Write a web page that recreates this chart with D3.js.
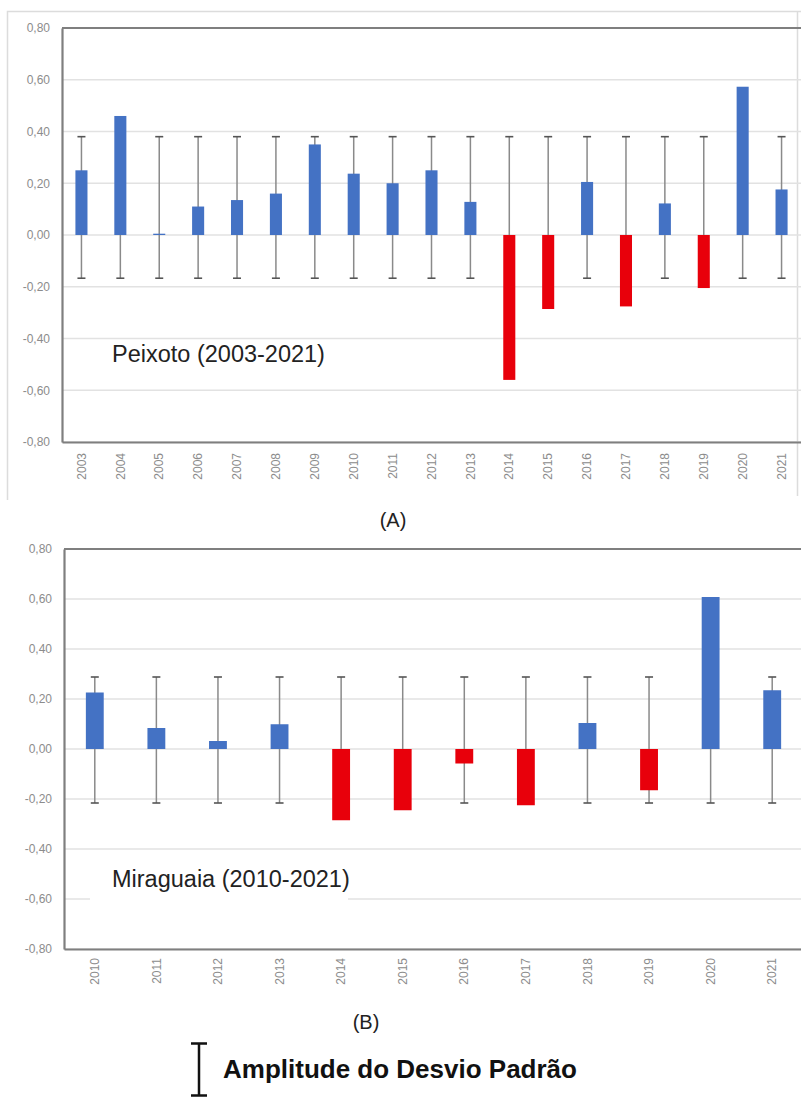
<!DOCTYPE html>
<html>
<head>
<meta charset="utf-8">
<script src="https://cdn.jsdelivr.net/npm/d3@7"></script>
<style>
  body { margin: 0; background: #fff; }
  svg { display: block; font-family: "Liberation Sans", Arial, sans-serif; }
</style>
</head>
<body>
<svg id="fig" width="801" height="1097"></svg>
<script>
'use strict'

// anomalies per year
const peixotoYears = ['2003', '2004', '2005', '2006', '2007', '2008', '2009', '2010', '2011', '2012',
  '2013', '2014', '2015', '2016', '2017', '2018', '2019', '2020', '2021']
const peixotoValues = [0.25, 0.46, 0.005, 0.11, 0.135, 0.16, 0.35, 0.237, 0.20, 0.25,
  0.128, -0.56, -0.286, 0.205, -0.276, 0.122, -0.205, 0.573, 0.176]
const peixotoSd = [-0.167, 0.38]

const miraguaiaYears = ['2010', '2011', '2012', '2013', '2014', '2015', '2016', '2017', '2018', '2019', '2020', '2021']
const miraguaiaValues = [0.226, 0.084, 0.032, 0.099, -0.285, -0.245, -0.058, -0.225, 0.104, -0.165, 0.608, 0.235]
const miraguaiaSd = [-0.216, 0.288]

const yTicks = [0.8, 0.6, 0.4, 0.2, 0, -0.2, -0.4, -0.6, -0.8]
const panelNames = ['Peixoto (2003-2021)', 'Miraguaia (2010-2021)']
const panelLetters = ['(A)', '(B)']
const legendText = 'Amplitude do Desvio Padrão'

const BLUE = '#4472c4'
const RED = '#e8000b'

const svg = d3.select('#fig')
const fmt = v => d3.format('.2f')(v).replace('.', ',').replace('−', '-')

// light frame around the first panel
svg.append('path')
  .attr('d', 'M7.5,500 V11.5 H801 M797.5,11.5 V496')
  .attr('fill', 'none')
  .attr('stroke', '#dcdcdc')
  .attr('stroke-width', 1.5)

drawPanel({
  years: peixotoYears, values: peixotoValues, sd: peixotoSd,
  left: 62, right: 801, top: 28, bottom: 442,
  barFrac: 0.31, labelOffset: 11,
  name: panelNames[0], nameX: 112, nameY: 362, nameBox: null,
  letter: panelLetters[0], letterX: 393, letterY: 527
})

drawPanel({
  years: miraguaiaYears, values: miraguaiaValues, sd: miraguaiaSd,
  left: 64, right: 803, top: 549, bottom: 949,
  barFrac: 0.29, labelOffset: 9,
  name: panelNames[1], nameX: 112, nameY: 887, nameBox: [90, 862, 258, 42],
  letter: panelLetters[1], letterX: 366, letterY: 1029
})

drawLegend()

function drawPanel (cfg) {
  const g = svg.append('g')

  const x = d3.scaleBand()
    .domain(cfg.years)
    .range([cfg.left, cfg.right])

  const y = d3.scaleLinear()
    .domain([-0.8, 0.8])
    .range([cfg.bottom, cfg.top])

  // horizontal gridlines
  g.append('g')
    .selectAll('line')
    .data(yTicks)
    .enter()
    .append('line')
      .attr('x1', cfg.left)
      .attr('x2', cfg.right)
      .attr('y1', d => y(d))
      .attr('y2', d => y(d))
      .attr('stroke', '#e2e2e2')
      .attr('stroke-width', 1.5)

  // top border of the plot
  g.append('line')
    .attr('x1', cfg.left)
    .attr('x2', 801)
    .attr('y1', y(0.8))
    .attr('y2', y(0.8))
    .attr('stroke', '#7f7f7f')
    .attr('stroke-width', 2.2)

  // white box behind the station name
  if (cfg.nameBox) {
    g.append('rect')
      .attr('x', cfg.nameBox[0])
      .attr('y', cfg.nameBox[1])
      .attr('width', cfg.nameBox[2])
      .attr('height', cfg.nameBox[3])
      .attr('fill', '#fff')
  }

  // y axis
  const yAxis = g.append('g')
    .attr('transform', 'translate(' + cfg.left + ',0)')
    .call(d3.axisLeft(y).tickValues(yTicks).tickSize(0).tickPadding(12).tickFormat(fmt))
  yAxis.select('.domain').attr('stroke', '#7f7f7f').attr('stroke-width', 2.2)
  yAxis.selectAll('text')
    .attr('fill', '#8c8c8c')
    .style('font-size', '12px')
    .style('font-family', '"Liberation Sans", Arial, sans-serif')

  // x axis with rotated year labels
  const xAxis = g.append('g')
    .attr('transform', 'translate(0,' + cfg.bottom + ')')
    .call(d3.axisBottom(x).tickSize(0).tickSizeOuter(0))
  xAxis.select('.domain').attr('stroke', '#7f7f7f').attr('stroke-width', 2.2)
  xAxis.selectAll('text')
    .attr('transform', 'rotate(-90)')
    .attr('x', -cfg.labelOffset)
    .attr('y', 0)
    .attr('dy', '0.35em')
    .attr('fill', '#8c8c8c')
    .style('text-anchor', 'end')
    .style('font-size', '12px')
    .style('font-family', '"Liberation Sans Narrow", "Liberation Sans", Arial, sans-serif')

  const cx = d => x(d) + x.bandwidth() / 2
  const capW = 4

  // standard deviation whiskers (behind the bars)
  const err = g.append('g')
  err.selectAll('line.whisker')
    .data(cfg.years)
    .enter()
    .append('line')
      .attr('class', 'whisker')
      .attr('x1', cx)
      .attr('x2', cx)
      .attr('y1', y(cfg.sd[0]))
      .attr('y2', y(cfg.sd[1]))
      .attr('stroke', '#8a8a8a')
      .attr('stroke-width', 1.5)
  cfg.sd.forEach(v => {
    err.selectAll(null)
      .data(cfg.years)
      .enter()
      .append('line')
        .attr('x1', d => cx(d) - capW)
        .attr('x2', d => cx(d) + capW)
        .attr('y1', y(v))
        .attr('y2', y(v))
        .attr('stroke', '#555')
        .attr('stroke-width', 1.6)
  })

  // bars
  const bw = x.bandwidth() * cfg.barFrac
  g.append('g')
    .selectAll('rect')
    .data(cfg.years.map((yr, i) => ({ year: yr, value: cfg.values[i] })))
    .enter()
    .append('rect')
      .attr('x', d => cx(d.year) - bw / 2)
      .attr('y', d => y(Math.max(0, d.value)))
      .attr('width', bw)
      .attr('height', d => Math.abs(y(d.value) - y(0)))
      .attr('fill', d => d.value < 0 ? RED : BLUE)

  // station name inside the plot
  g.append('text')
    .attr('x', cfg.nameX)
    .attr('y', cfg.nameY)
    .attr('fill', '#222')
    .style('font-size', '23.5px')
    .text(cfg.name)

  // panel letter
  g.append('text')
    .attr('x', cfg.letterX)
    .attr('y', cfg.letterY)
    .attr('text-anchor', 'middle')
    .attr('fill', '#222')
    .style('font-size', '20px')
    .text(cfg.letter)
}

function drawLegend () {
  const lg = svg.append('g')
  lg.append('path')
    .attr('d', 'M191,1043.5 H207 M199,1043.5 V1095.5 M191,1095.5 H207')
    .attr('fill', 'none')
    .attr('stroke', '#111')
    .attr('stroke-width', 2.5)
  lg.append('text')
    .attr('x', 223)
    .attr('y', 1078)
    .attr('fill', '#111')
    .style('font-size', '26px')
    .style('font-weight', 'bold')
    .text(legendText)
}
</script>
</body>
</html>
